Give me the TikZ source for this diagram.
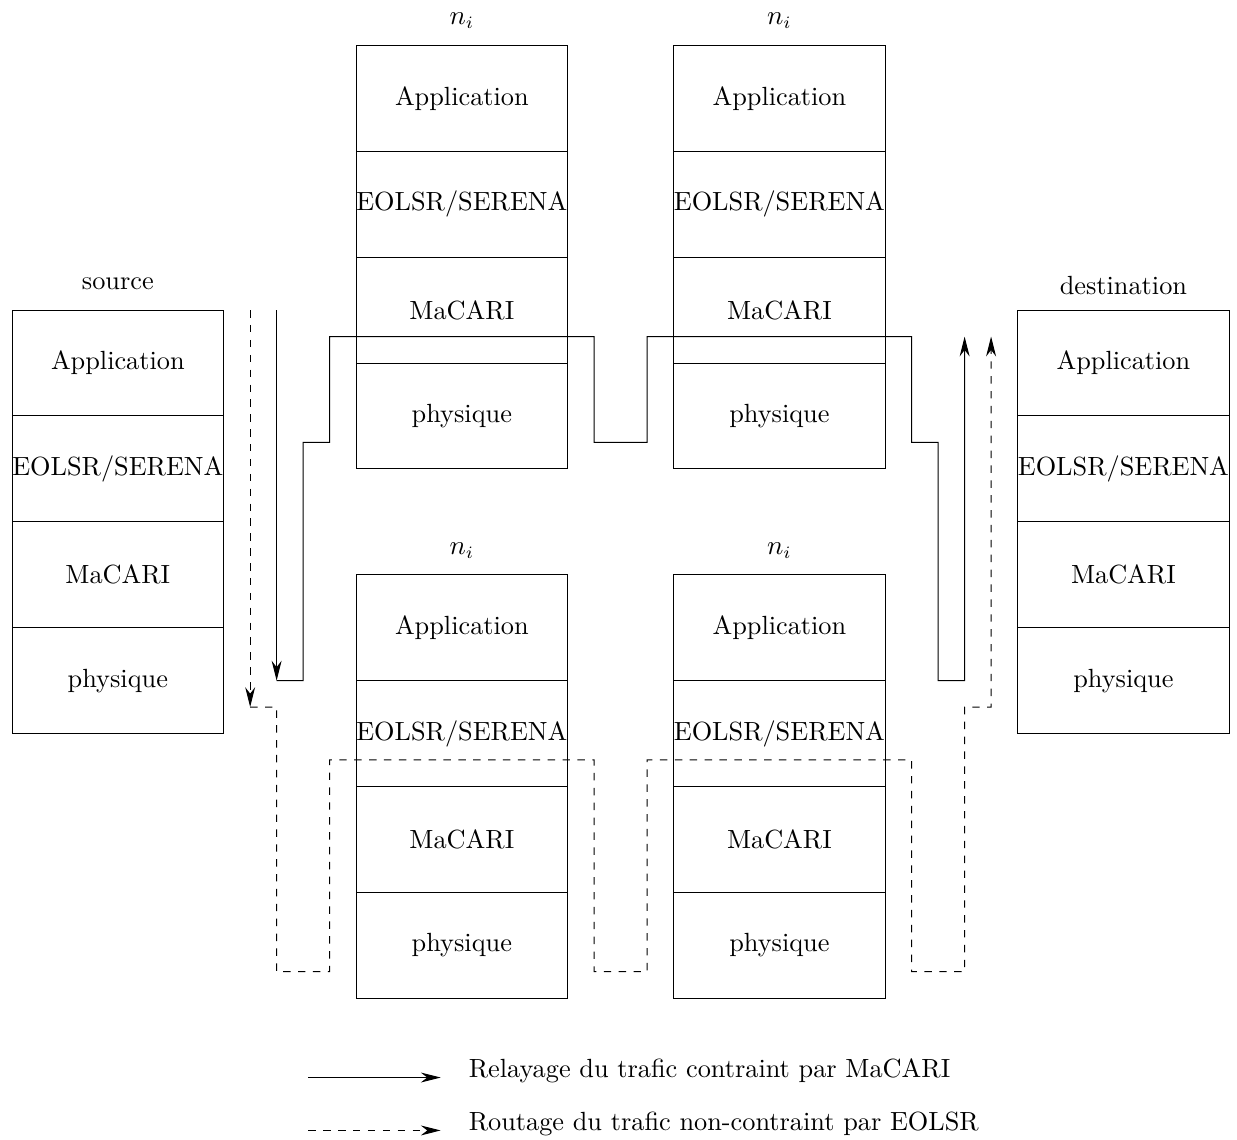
\documentclass[tikz,border=0pt]{standalone}
\usepackage{tikz}
\usetikzlibrary{arrows.meta, positioning, calc}

\begin{document}
\begin{tikzpicture}[
        every node/.style={font=\fontsize{10.6}{12.7}\selectfont},
        layer/.style={draw, minimum width=3cm, minimum height=1.5cm,
                      inner sep=0pt, outer sep=0pt},
        arr/.style={-{Stealth[length=8pt, width=4pt]}},
        node distance=0pt
    ]
    \useasboundingbox (-0.17,-2.0) rectangle (17.36,14.145);
    % source
    \node[layer] (srcapp) at (1.5,9) {Application};
    \node[layer, below=of srcapp] (srceol) {EOLSR/SERENA};
    \node[layer, below=of srceol] (srcmac) {MaCARI};
    \node[layer, below=of srcmac] (srcphy) {physique};
    \node[above=0.17cm of srcapp] (srclab) {source};
    % relais du haut
    \node[layer] (n1app) at (6.375,12.75) {Application};
    \node[layer, below=of n1app] (n1eol) {EOLSR/SERENA};
    \node[layer, below=of n1eol] (n1mac) {MaCARI};
    \node[layer, below=of n1mac] (n1phy) {physique};
    \node[above=0.11cm of n1app] (n1lab) {$n_i$};
    \node[layer] (n2app) at (10.875,12.75) {Application};
    \node[layer, below=of n2app] (n2eol) {EOLSR/SERENA};
    \node[layer, below=of n2eol] (n2mac) {MaCARI};
    \node[layer, below=of n2mac] (n2phy) {physique};
    \node[above=0.11cm of n2app] (n2lab) {$n_i$};
    % relais du bas
    \node[layer] (n3app) at (6.375,5.25) {Application};
    \node[layer, below=of n3app] (n3eol) {EOLSR/SERENA};
    \node[layer, below=of n3eol] (n3mac) {MaCARI};
    \node[layer, below=of n3mac] (n3phy) {physique};
    \node[above=0.11cm of n3app] (n3lab) {$n_i$};
    \node[layer] (n4app) at (10.875,5.25) {Application};
    \node[layer, below=of n4app] (n4eol) {EOLSR/SERENA};
    \node[layer, below=of n4eol] (n4mac) {MaCARI};
    \node[layer, below=of n4mac] (n4phy) {physique};
    \node[above=0.11cm of n4app] (n4lab) {$n_i$};
    % destination
    \node[layer] (dstapp) at (15.75,9) {Application};
    \node[layer, below=of dstapp] (dsteol) {EOLSR/SERENA};
    \node[layer, below=of dsteol] (dstmac) {MaCARI};
    \node[layer, below=of dstmac] (dstphy) {physique};
    \node[above=0.1cm of dstapp] (dstlab) {destination};

    % trafic contraint (MaCARI)
    \coordinate (cs0) at ($(srcapp.north east)+(0.75,0)$);
    \coordinate (cs1) at ($(srcphy.east)+(0.75,0)$);
    \coordinate (cd1) at ($(dstapp.north west)+(-0.75,-0.375)$);
    \draw[arr] (cs0) -- (cs1);
    \draw[arr] (cs1) -- ++(0.375,0) -- ++(0,3.375) -- ++(0.375,0) -- ++(0,1.5)
        -- ++(3.75,0) -- ++(0,-1.5) -- ++(0.75,0) -- ++(0,1.5) -- ++(3.75,0)
        -- ++(0,-1.5) -- ++(0.375,0) -- ++(0,-3.375) -- ++(0.375,0) -- (cd1);
    % trafic non contraint (EOLSR)
    \coordinate (ds0) at ($(srcapp.north east)+(0.375,0)$);
    \coordinate (ds1) at ($(srcphy.south east)+(0.375,0.375)$);
    \coordinate (dd1) at ($(dstapp.north west)+(-0.375,-0.375)$);
    \draw[arr, dashed] (ds0) -- (ds1);
    \draw[arr, dashed] (ds1) -- ++(0.375,0) -- ++(0,-3.75) -- ++(0.75,0) -- ++(0,3)
        -- ++(3.75,0) -- ++(0,-3) -- ++(0.75,0) -- ++(0,3) -- ++(3.75,0)
        -- ++(0,-3) -- ++(0.75,0) -- ++(0,3.75) -- ++(0.375,0) -- (dd1);

    % legende
    \node[anchor=base west] (leg1) at (6.35,-1.125) {Relayage du trafic contraint par MaCARI};
    \node[anchor=base west] (leg2) at (6.35,-1.875) {Routage du trafic non-contraint par EOLSR};
    \coordinate (l1) at (4.2,-1.125);
    \coordinate (l2) at (4.2,-1.875);
    \draw[arr, shorten >=0.275cm] (l1) -- (l1 -| leg1.west);
    \draw[arr, dashed, shorten >=0.275cm] (l2) -- (l2 -| leg2.west);
\end{tikzpicture}
\end{document}
